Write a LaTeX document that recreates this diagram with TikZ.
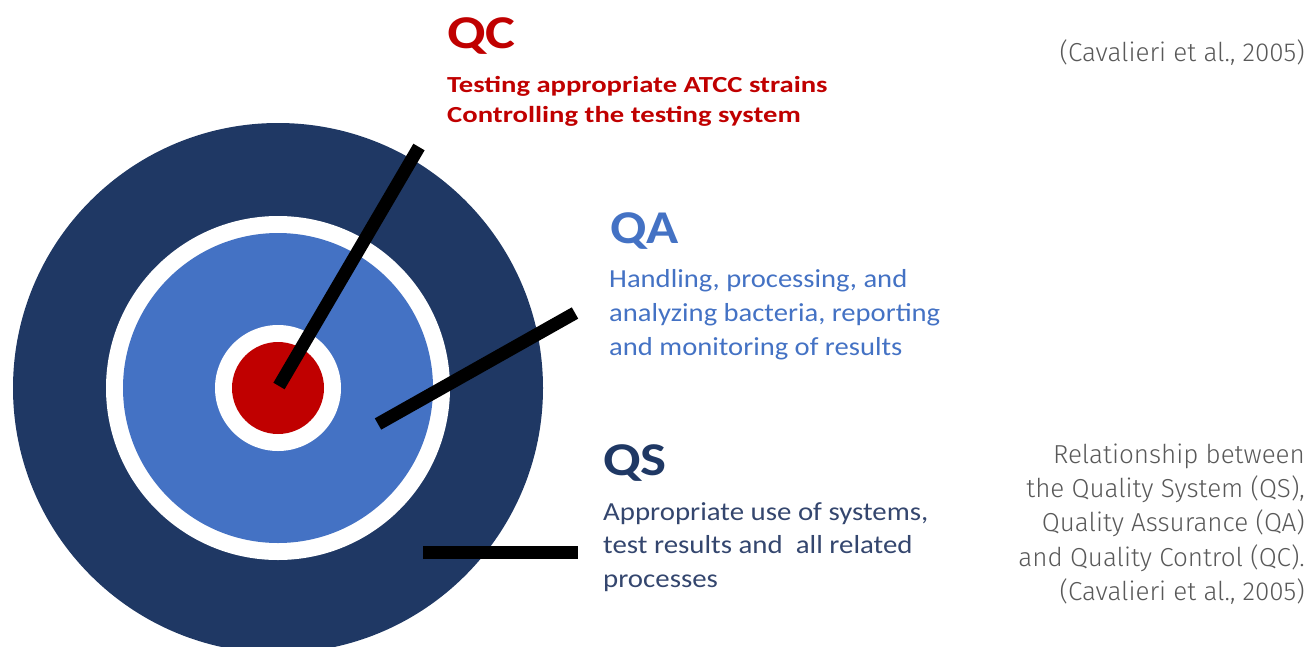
\documentclass[tikz,border=0pt]{standalone}
\usepackage{fontspec}
\newfontfamily\lblfont{Carlito}
\newfontfamily\capfont{Fira Sans}[UprightFont={* Light}]
\definecolor{qsnavy}{HTML}{1F3864}
\definecolor{qablue}{HTML}{4472C4}
\definecolor{qcred}{HTML}{C00000}
\definecolor{qstext}{HTML}{34466E}
\definecolor{capgray}{HTML}{595959}
\newcommand{\wide}[2]{\scalebox{#1}[1]{#2}}
\tikzset{
  disc/.style={circle, inner sep=0pt, minimum size=#1},
  pointer/.style={black, line width=13pt, line cap=butt},
  head/.style={anchor=base west, inner sep=0pt, font=\lblfont\bfseries\fontsize{47}{47}\selectfont},
  body/.style={anchor=base west, inner sep=0pt, font=\lblfont\fontsize{26}{26}\selectfont},
  bodybold/.style={anchor=base west, inner sep=0pt, font=\lblfont\bfseries\fontsize{23}{23}\selectfont},
  captext/.style={anchor=base east, inner sep=0pt, text=capgray, font=\capfont\fontsize{26}{26}\selectfont}
}
\begin{document}
\begin{tikzpicture}[x=1pt,y=-1pt]
\useasboundingbox (0,0) rectangle (1310,646);
\clip (0,0) rectangle (1310,646);

% target rings
\node[disc=530pt, fill=qsnavy] (qs) at (278,388) {};
\node[disc=344pt, fill=white] (qsgap) at (278,388) {};
\node[disc=310pt, fill=qablue] (qa) at (278,388) {};
\node[disc=126pt, fill=white] (qagap) at (278,388) {};
\node[disc=92pt, fill=qcred] (qc) at (278,388) {};

% pointer ends
\coordinate (qcin) at (279,386);
\coordinate (qcout) at (419,147);
\coordinate (qain) at (378,424);
\coordinate (qaout) at (575,313);
\coordinate (qsin) at (423,552);
\coordinate (qsout) at (578,552);

\draw[pointer] (qcin) -- (qcout);
\draw[pointer] (qain) -- (qaout);
\draw[pointer] (qsin) -- (qsout);

% QC labels
\node[head, text=qcred] (qchead) at (447,48) {\wide{1.2}{QC}};
\node[bodybold, text=qcred] (qcl1) at (447,92) {\wide{1.245}{Testing appropriate ATCC strains}};
\node[bodybold, text=qcred] (qcl2) at (447,122) {\wide{1.245}{Controlling the testing system}};

% QA labels
\node[head, text=qablue] (qahead) at (610,243) {\wide{1.13}{QA}};
\node[body, text=qablue] (qal1) at (609,287) {\wide{1.1}{Handling, processing, and}};
\node[body, text=qablue] (qal2) at (609,321) {\wide{1.1}{analyzing bacteria, reporting}};
\node[body, text=qablue] (qal3) at (609,355) {\wide{1.1}{and monitoring of results}};

% QS labels
\node[head, text=qsnavy] (qshead) at (603,475) {\wide{1.17}{QS}};
\node[body, text=qstext] (qsl1) at (603,520) {\wide{1.11}{Appropriate use of systems,}};
\node[body, text=qstext] (qsl2) at (603,553) {\wide{1.11}{test results and\ \ all related}};
\node[body, text=qstext] (qsl3) at (603,587) {\wide{1.11}{processes}};

% citations and caption
\node[captext] (cite) at (1305,61) {(Cavalieri et al., 2005)};
\node[captext] (c1) at (1305,463) {Relationship between};
\node[captext] (c2) at (1305,497) {the Quality System (QS),};
\node[captext] (c3) at (1305,531) {Quality Assurance (QA)};
\node[captext] (c4) at (1305,566) {and Quality Control (QC).};
\node[captext] (c5) at (1305,600) {(Cavalieri et al., 2005)};
\end{tikzpicture}
\end{document}
